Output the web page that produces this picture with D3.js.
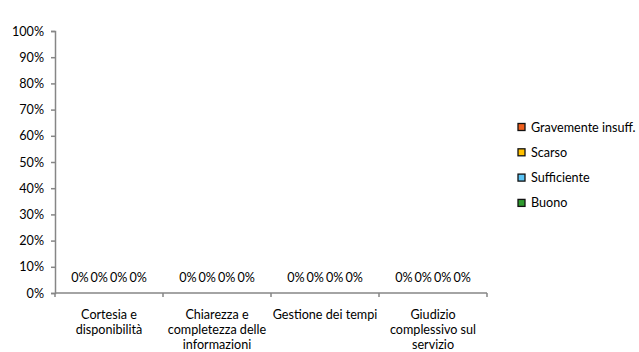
<!DOCTYPE html>
<html><head><meta charset="utf-8">
<script src="https://cdn.jsdelivr.net/npm/d3@7"></script>
<style>body{margin:0;background:#fff}svg{display:block}text{font-family:Lato,"Open Sans",sans-serif;font-size:12.6px;fill:#000}</style>
</head><body><svg id="c" width="639" height="352"></svg>
<script>
const categories = [["Cortesia e","disponibilità"],["Chiarezza e","completezza delle","informazioni"],["Gestione dei tempi"],["Giudizio","complessivo sul","servizio"]];
const seriesNames = ["Gravemente insuff.","Scarso","Sufficiente","Buono"];
const seriesColors = ["#F0601E","#FFC000","#5BC4F5","#2E9A2E"];
const values = [[0,0,0,0],[0,0,0,0],[0,0,0,0],[0,0,0,0]]; // per series, per category
const yTicks = [0,0.1,0.2,0.3,0.4,0.5,0.6,0.7,0.8,0.9,1.0];

const svg = d3.select("#c");
const x0 = d3.scaleBand().domain(d3.range(categories.length)).range([55,487]).paddingInner(0.28).paddingOuter(0.14);
const x1 = d3.scaleBand().domain(d3.range(seriesNames.length)).range([0,x0.bandwidth()]);
const y = d3.scaleLinear().domain([0,1]).range([293,31]);
const axisColor = "#868686";

// y axis
const ya = svg.append("g").attr("transform","translate(55,0)")
  .call(d3.axisLeft(y).tickValues(yTicks).tickFormat(d3.format(".0%")).tickSize(4).tickSizeOuter(4));
ya.select(".domain").attr("stroke",axisColor).attr("stroke-width",1.5);
ya.selectAll(".tick line").attr("stroke",axisColor).attr("stroke-width",1.5);
ya.selectAll(".tick text").attr("x",-11).attr("font-family",null).attr("font-size",null).style("fill","#000");

// bars
seriesNames.forEach((s,si)=>{
  svg.append("g").selectAll("rect").data(values[si]).join("rect")
    .attr("x",(d,ci)=>x0(ci)+x1(si)).attr("width",x1.bandwidth())
    .attr("y",d=>y(d)).attr("height",d=>y(0)-y(d)).attr("fill",seriesColors[si]);
  svg.append("g").selectAll("text").data(values[si]).join("text")
    .attr("x",(d,ci)=>x0(ci)+x1(si)+x1.bandwidth()/2).attr("y",d=>y(d)-11)
    .attr("text-anchor","middle").text(d=>d3.format(".0%")(d));
});

// x axis
const xg = svg.append("g");
xg.append("line").attr("x1",55).attr("x2",487).attr("y1",y(0)).attr("y2",y(0)).attr("stroke",axisColor).attr("stroke-width",1.5);
const step = x0.step();
d3.range(categories.length+1).forEach(i=>{
  const xx = 55 + i*step;
  xg.append("line").attr("x1",xx).attr("x2",xx).attr("y1",y(0)).attr("y2",y(0)+4).attr("stroke",axisColor).attr("stroke-width",1.5);
});
categories.forEach((lines,ci)=>{
  const t = svg.append("text").attr("text-anchor","middle");
  lines.forEach((l,li)=>t.append("tspan").attr("x",x0(ci)+x0.bandwidth()/2).attr("y",319+li*15).text(l));
});

// legend
const lg = svg.append("g");
seriesNames.forEach((s,i)=>{
  const yy = 127 + i*25.3;
  lg.append("rect").attr("x",518).attr("y",yy-3.5).attr("width",7).attr("height",7).attr("fill",seriesColors[i]).attr("stroke","#111").attr("stroke-width",1.3);
  lg.append("text").attr("x",531).attr("y",yy+4.5).text(s);
});
</script></body></html>
